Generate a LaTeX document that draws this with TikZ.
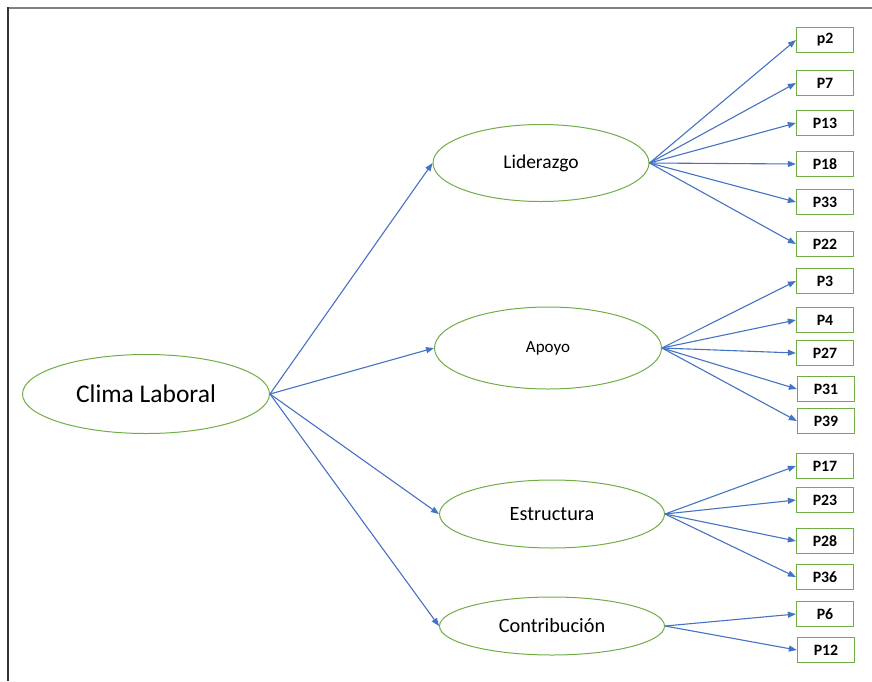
\documentclass[tikz,border=0pt]{standalone}
\usepackage{fontspec}
\setmainfont{Carlito}
\usetikzlibrary{shapes.geometric,arrows.meta}

\definecolor{officeblue}{HTML}{4472C4}
\definecolor{officegreen}{HTML}{70AD47}

\tikzset{
    factor/.style={ellipse, draw=officegreen, line width=1pt, inner sep=0pt},
    item/.style={rectangle, draw=officegreen, line width=1.3pt, minimum width=57pt,
        minimum height=25pt, inner sep=0pt, font=\fontsize{15.8}{15.8}\selectfont\bfseries},
    link/.style={draw=officeblue, line width=1.1pt, -{Triangle[length=8pt,width=6pt]}}
}

\begin{document}
\begin{tikzpicture}[x=1pt, y=-1pt]

    \useasboundingbox (0, 0) rectangle (872, 681);
    \draw[color=gray, line width=2pt] (8, 8) -- (872, 8);
    \draw[color=black!80, line width=2pt] (8, 7) -- (8, 681);

    \node[factor, minimum width=247pt, minimum height=79pt, font=\fontsize{25.5}{25.5}\selectfont] (clima) at (146, 394) {Clima Laboral};

    \node[factor, minimum width=216pt, minimum height=77pt, font=\fontsize{19.5}{19.5}\selectfont] (lid) at (541, 163) {Liderazgo};
    \node[factor, minimum width=227pt, minimum height=82pt, font=\fontsize{17}{17}\selectfont] (apo) at (548, 348) {Apoyo};
    \node[factor, minimum width=225pt, minimum height=68pt, font=\fontsize{20.3}{20.3}\selectfont] (est) at (552, 514) {Estructura};
    \node[factor, minimum width=225pt, minimum height=58pt, font=\fontsize{20.3}{20.3}\selectfont] (con) at (552, 626) {Contribución};

    \node[item] (p2) at (825, 40) {p2};
    \node[item] (p7) at (825, 83) {P7};
    \node[item] (p13) at (825, 123) {P13};
    \node[item] (p18) at (825, 164) {P18};
    \node[item] (p33) at (825, 202) {P33};
    \node[item] (p22) at (825, 244) {P22};

    \node[item] (p3) at (825, 281) {P3};
    \node[item] (p4) at (825, 320) {P4};
    \node[item] (p27) at (825, 353) {P27};
    \node[item] (p31) at (826, 389) {P31};
    \node[item] (p39) at (826, 421) {P39};

    \node[item] (p17) at (825, 466) {P17};
    \node[item] (p23) at (825, 500) {P23};
    \node[item] (p28) at (825, 541) {P28};
    \node[item] (p36) at (825, 577) {P36};

    \node[item] (p6) at (825, 614) {P6};
    \node[item] (p12) at (826, 650) {P12};

    \foreach \f in {lid, apo, est, con}
        \draw[link] (clima.east) -- (\f.west);

    \foreach \p in {p2, p7, p13, p18, p33, p22}
        \draw[link] (lid.east) -- (\p.west);
    \foreach \p in {p3, p4, p27, p31, p39}
        \draw[link] (apo.east) -- (\p.west);
    \foreach \p in {p17, p23, p28, p36}
        \draw[link] (est.east) -- (\p.west);
    \foreach \p in {p6, p12}
        \draw[link] (con.east) -- (\p.west);

\end{tikzpicture}
\end{document}
